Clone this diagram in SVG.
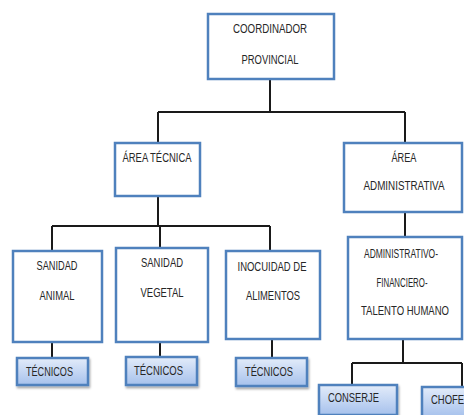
<svg xmlns="http://www.w3.org/2000/svg" width="464" height="415" viewBox="0 0 464 415">
<style>
.box{fill:#fff;stroke:#4f81bd;stroke-width:2.5}
.sub{fill:url(#g);stroke:#4f81bd;stroke-width:2.5;filter:url(#sh)}
.t{font-family:"Liberation Sans",Arial,sans-serif;font-size:12px;fill:#262626;text-anchor:middle}
.ts{font-family:"Liberation Sans",Arial,sans-serif;font-size:12px;fill:#262626}
.c{fill:none;stroke:#1a1a1a;stroke-width:2}
</style>
<defs>
<linearGradient id="g" x1="0" y1="0" x2="0" y2="1">
<stop offset="0" stop-color="#e3ecfa"/>
<stop offset="1" stop-color="#a6c1ec"/>
</linearGradient>
<filter id="sh" x="-10%" y="-10%" width="130%" height="140%">
<feDropShadow dx="1" dy="2" stdDeviation="1" flood-color="#000" flood-opacity="0.35"/>
</filter>
</defs>
<g id="connectors">
<path class="c" d="M270 79V112M158 112H405M158 112V143M405 112V143"/>
<path class="c" d="M158 196V226M52 226H270M52 226V250M160 226V247M270 226V250"/>
<path class="c" d="M405 212V237"/>
<path class="c" d="M52 342V358M160 342V357M272 339V358"/>
<path class="c" d="M403 339V363M352 363H462M352 363V385M462 363V387"/>
</g>
<g id="coordinador">
<rect class="box" x="208" y="14" width="126" height="65"/>
<text class="t" x="270" y="33" textLength="74" lengthAdjust="spacingAndGlyphs">COORDINADOR</text>
<text class="t" x="270" y="64" textLength="57" lengthAdjust="spacingAndGlyphs">PROVINCIAL</text>
</g>
<g id="area-tecnica">
<rect class="box" x="115" y="143" width="85" height="53"/>
<text class="t" x="157" y="162" textLength="69" lengthAdjust="spacingAndGlyphs">ÁREA TÉCNICA</text>
</g>
<g id="area-administrativa">
<rect class="box" x="344" y="143" width="118" height="69"/>
<text class="t" x="404" y="162" textLength="25" lengthAdjust="spacingAndGlyphs">ÁREA</text>
<text class="t" x="404" y="190" textLength="81" lengthAdjust="spacingAndGlyphs">ADMINISTRATIVA</text>
</g>
<g id="sanidad-animal">
<rect class="box" x="13" y="251" width="89" height="91"/>
<text class="t" x="57" y="270" textLength="41" lengthAdjust="spacingAndGlyphs">SANIDAD</text>
<text class="t" x="57" y="300" textLength="35" lengthAdjust="spacingAndGlyphs">ANIMAL</text>
</g>
<g id="sanidad-vegetal">
<rect class="box" x="116" y="248" width="92" height="94"/>
<text class="t" x="162" y="267" textLength="42" lengthAdjust="spacingAndGlyphs">SANIDAD</text>
<text class="t" x="162" y="297" textLength="43" lengthAdjust="spacingAndGlyphs">VEGETAL</text>
</g>
<g id="inocuidad">
<rect class="box" x="226" y="251" width="94" height="88"/>
<text class="t" x="272" y="271" textLength="69" lengthAdjust="spacingAndGlyphs">INOCUIDAD DE</text>
<text class="t" x="273" y="300" textLength="54" lengthAdjust="spacingAndGlyphs">ALIMENTOS</text>
</g>
<g id="administrativo">
<rect class="box" x="348" y="237" width="114" height="102"/>
<text class="t" x="401" y="258" textLength="74" lengthAdjust="spacingAndGlyphs">ADMINISTRATIVO-</text>
<text class="t" x="402" y="287" textLength="51" lengthAdjust="spacingAndGlyphs">FINANCIERO-</text>
<text class="t" x="405" y="315" textLength="88" lengthAdjust="spacingAndGlyphs">TALENTO HUMANO</text>
</g>
<g id="tecnicos-1">
<rect class="sub" x="17" y="358" width="71" height="27"/>
<text class="ts" x="26" y="376" textLength="47" lengthAdjust="spacingAndGlyphs">TÉCNICOS</text>
</g>
<g id="tecnicos-2">
<rect class="sub" x="126" y="357" width="71" height="28"/>
<text class="ts" x="134" y="375" textLength="49" lengthAdjust="spacingAndGlyphs">TÉCNICOS</text>
</g>
<g id="tecnicos-3">
<rect class="sub" x="236" y="358" width="71" height="28"/>
<text class="ts" x="245" y="376" textLength="48" lengthAdjust="spacingAndGlyphs">TÉCNICOS</text>
</g>
<g id="conserje">
<rect class="sub" x="319" y="385" width="78" height="30"/>
<text class="ts" x="328" y="402" textLength="51" lengthAdjust="spacingAndGlyphs">CONSERJE</text>
</g>
<g id="chofer">
<rect class="sub" x="422" y="387" width="60" height="30"/>
<text class="ts" x="431" y="404" textLength="40" lengthAdjust="spacingAndGlyphs">CHOFER</text>
</g>
</svg>
